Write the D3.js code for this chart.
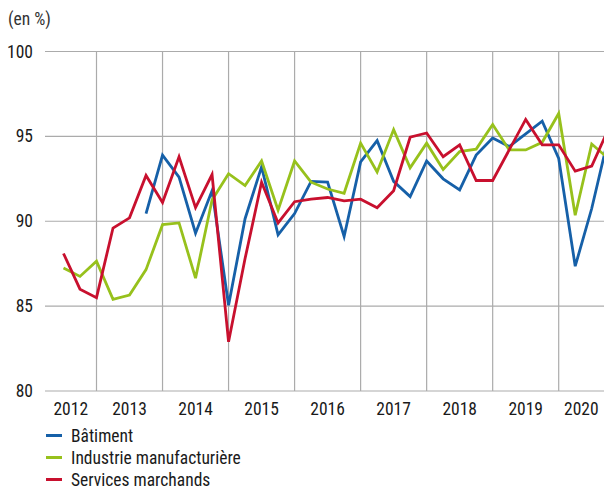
<!DOCTYPE html>
<html>
<head>
<meta charset="utf-8">
<script src="https://cdn.jsdelivr.net/npm/d3@7"></script>
<style>
    body { margin: 0; background: #fff; }
    svg text { font-family: "Liberation Sans Narrow", "Roboto Condensed", "Roboto", sans-serif; fill: #1a1a1a; }
</style>
</head>
<body>
<svg id="chart" width="604" height="490"></svg>
<script>
// quarters from 2012 T3 to 2020 T4, placed at the start of each quarter
const quarters = d3.range(34).map(i => 2012.5 + i / 4);

const batiment = [null, null, null, null, null,
    90.45, 93.9, 92.6, 89.3, 91.8, 85.05, 90.15, 93.2, 89.2, 90.45,
    92.35, 92.3, 89.1, 93.5, 94.75, 92.35, 91.45, 93.55, 92.5, 91.85,
    93.9, 94.9, 94.4, 95.15, 95.9, 93.7, 87.35, 90.75, 94.9];
const industrie = [87.25, 86.75, 87.65, 85.4, 85.65, 87.15, 89.8, 89.9, 86.65, 91.25,
    92.8, 92.1, 93.55, 90.65, 93.55, 92.3, 91.9, 91.65, 94.6, 92.9,
    95.4, 93.15, 94.6, 93.05, 94.1, 94.25, 95.7, 94.2, 94.2, 94.65,
    96.35, 90.35, 94.55, 93.7];
const services = [88.1, 86.0, 85.5, 89.6, 90.2, 92.7, 91.1, 93.8, 90.8, 92.75,
    82.9, 87.8, 92.3, 89.9, 91.15, 91.3, 91.4, 91.2, 91.3, 90.8,
    91.8, 94.95, 95.2, 93.8, 94.5, 92.4, 92.4, 94.2, 96.0, 94.5,
    94.5, 92.95, 93.25, 95.4];

const seriesNames = ["Bâtiment", "Industrie manufacturière", "Services marchands"];
const seriesColors = ["#1660a8", "#97c11c", "#c8102e"];
const yTicks = [80, 85, 90, 95, 100];
const years = [2012, 2013, 2014, 2015, 2016, 2017, 2018, 2019, 2020];

const LEFT = 45;
const RIGHT = 604;
const TOP = 51.5;
const BOTTOM = 391;

let svg = d3.select("#chart");

let x = d3.scaleLinear().domain([2012.22, 2020.686]).range([LEFT, RIGHT]);
let y = d3.scaleLinear().domain([80, 100]).range([BOTTOM, TOP]);

svg.append("defs").append("clipPath").attr("id", "plot-clip")
    .append("rect")
    .attr("x", LEFT).attr("y", 0)
    .attr("width", RIGHT - LEFT).attr("height", BOTTOM + 10);

// grid
svg.append("g")
    .selectAll("line")
    .data(yTicks)
    .join("line")
    .attr("x1", LEFT).attr("x2", RIGHT)
    .attr("y1", d => y(d)).attr("y2", d => y(d))
    .attr("stroke", "#ababab")
    .attr("stroke-width", 1.2);

svg.append("g")
    .selectAll("line")
    .data(years.slice(1))
    .join("line")
    .attr("x1", d => x(d)).attr("x2", d => x(d))
    .attr("y1", y(100)).attr("y2", y(80))
    .attr("stroke", "#ababab")
    .attr("stroke-width", 1.2);

// y labels
svg.append("g")
    .selectAll("text")
    .data(yTicks)
    .join("text")
    .attr("x", 33)
    .attr("y", d => y(d) + 6)
    .attr("text-anchor", "end")
    .attr("font-size", "17.5px")
    .text(d => d);

svg.append("text")
    .attr("x", 8).attr("y", 25)
    .attr("font-size", "17.5px")
    .style("fill", "#333")
    .text("(en %)");

// year labels, centred in the visible part of each year
svg.append("g")
    .selectAll("text")
    .data(years)
    .join("text")
    .attr("x", d => (Math.max(x(d), LEFT) + Math.min(x(d + 1), RIGHT)) / 2)
    .attr("y", 415)
    .attr("text-anchor", "middle")
    .attr("font-size", "17.5px")
    .text(d => d);

// lines
let line = d3.line()
    .defined(d => d.v != null)
    .x(d => x(d.q))
    .y(d => y(d.v));

let allSeries = [batiment, industrie, services];
let lineGroup = svg.append("g").attr("clip-path", "url(#plot-clip)");
allSeries.forEach((values, i) => {
    let points = quarters.map((q, j) => ({ q: q, v: values[j] }));
    lineGroup.append("path")
        .datum(points)
        .attr("d", line)
        .attr("fill", "none")
        .attr("stroke", seriesColors[i])
        .attr("stroke-width", 2.8)
        .attr("stroke-linejoin", "miter");
});

// legend
let legend = svg.append("g")
    .selectAll("g")
    .data(seriesNames)
    .join("g")
    .attr("transform", (d, i) => "translate(0," + (435.5 + i * 22) + ")");
legend.append("line")
    .attr("x1", 46).attr("x2", 62)
    .attr("stroke", (d, i) => seriesColors[i])
    .attr("stroke-width", 3);
legend.append("text")
    .attr("x", 71).attr("y", 6)
    .attr("font-size", "17.5px")
    .text(d => d);
</script>
</body>
</html>
